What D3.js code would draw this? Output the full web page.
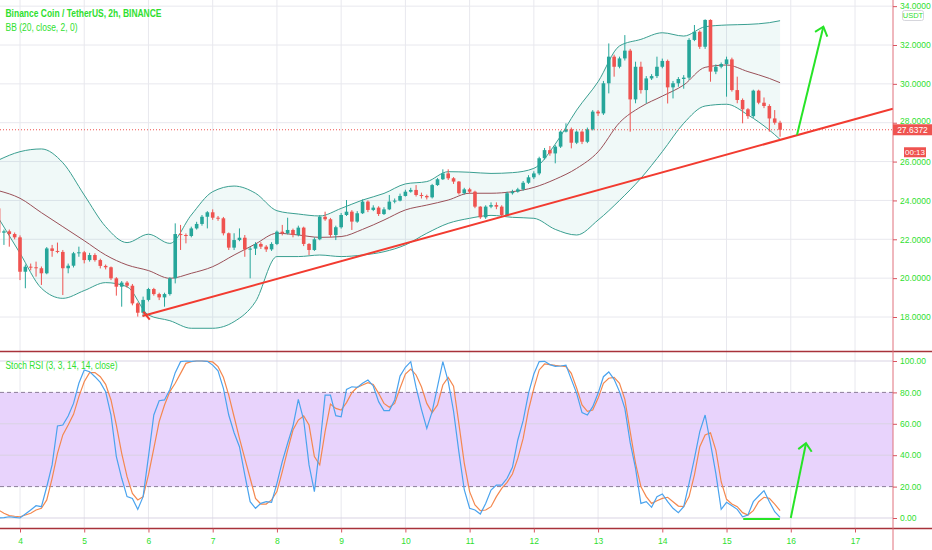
<!DOCTYPE html>
<html>
<head>
<meta charset="utf-8">
<script src="https://cdn.jsdelivr.net/npm/d3@7"></script>
<style>
  body { margin: 0; background: #fff; }
  svg { display: block; font-family: "Liberation Sans", Arial, sans-serif; }
</style>
</head>
<body>
<svg id="chart" width="932" height="550"></svg>
<script>
// ---- candles : BNB/USDT 2h, first candle is day 3 at 16:00 ----
const firstCandleDay = 3 + 16 / 24;
const candleStep = 2 / 24;
const firstOpen = 23.59;
// open of each candle = close of the previous one
const closes = [
  22.34, 22.41, 22.27, 22.10, 20.33, 20.59, 20.56, 20.51, 20.25, 21.53,
  21.40, 21.35, 20.51, 20.64, 21.28, 21.33, 20.93, 21.19, 20.93, 20.63,
  20.56, 19.99, 19.56, 19.77, 19.61, 18.70, 18.22, 18.88, 19.44, 19.18,
  19.01, 19.18, 19.99, 22.27, 22.22, 22.17, 22.56, 22.79, 23.16, 23.39,
  23.11, 23.08, 22.31, 21.57, 21.96, 22.08, 21.48, 21.52, 21.76, 21.62,
  21.48, 21.76, 22.39, 22.31, 22.48, 22.22, 22.60, 21.76, 21.45, 22.00,
  23.16, 23.03, 22.22, 22.62, 23.25, 23.42, 22.91, 23.34, 23.94, 23.51,
  23.63, 23.30, 23.54, 23.94, 23.99, 24.23, 24.45, 24.54, 24.28, 24.23,
  24.16, 24.79, 25.09, 25.39, 25.14, 24.97, 24.37, 24.57, 24.45, 23.68,
  23.13, 23.68, 23.76, 23.68, 23.25, 24.37, 24.45, 24.57, 24.91, 25.19,
  25.39, 26.17, 26.59, 26.42, 26.77, 27.54, 27.66, 26.97, 27.54, 27.02,
  27.66, 28.57, 28.48, 30.03, 31.40, 30.88, 31.31, 31.71, 29.20, 30.88,
  29.68, 30.28, 30.40, 30.88, 31.18, 29.82, 30.03, 30.25, 30.32, 32.26,
  32.68, 31.91, 33.29, 30.63, 30.88, 31.02, 31.26, 29.68, 29.17, 28.69,
  28.34, 29.65, 29.03, 28.86, 28.22, 28.00, 27.6372
];
const highs = [
  23.70, 22.50, 22.50, 22.35, 22.20, 20.70, 20.75, 20.85, 20.60, 21.60,
  21.71, 21.83, 21.45, 20.75, 21.35, 21.62, 21.40, 21.30, 21.28, 21.00,
  20.70, 20.60, 20.05, 19.85, 19.85, 19.70, 18.75, 19.05, 19.50, 19.50,
  19.25, 19.25, 20.05, 22.82, 22.74, 22.30, 22.65, 22.90, 23.25, 23.45,
  23.54, 23.20, 23.15, 22.35, 22.31, 22.56, 22.22, 21.60, 21.85, 21.85,
  21.70, 21.85, 22.45, 22.74, 23.11, 22.55, 22.70, 22.65, 21.80, 22.10,
  23.25, 23.42, 23.10, 22.70, 23.35, 24.02, 23.50, 23.45, 24.05, 24.00,
  23.75, 23.70, 23.65, 24.28, 24.10, 24.35, 24.55, 24.65, 24.79, 24.40,
  24.30, 24.85, 25.15, 25.60, 25.60, 25.20, 25.00, 24.65, 24.65, 24.50,
  23.70, 23.75, 23.90, 23.90, 23.75, 24.45, 24.55, 24.65, 25.00, 25.30,
  25.50, 26.25, 26.70, 26.80, 26.85, 27.60, 27.97, 27.75, 27.60, 27.60,
  27.75, 28.65, 28.65, 30.15, 32.08, 31.50, 31.40, 32.51, 31.80, 31.14,
  31.14, 30.40, 30.50, 31.40, 31.30, 31.25, 30.15, 30.35, 30.45, 32.35,
  33.03, 32.75, 33.32, 33.32, 31.00, 31.10, 31.40, 31.35, 30.37, 29.25,
  28.75, 29.70, 29.70, 29.30, 28.95, 28.65, 28.10
];
const lows = [
  22.20, 21.71, 21.62, 22.00, 19.90, 19.48, 20.40, 20.08, 19.65, 20.20,
  21.10, 21.28, 19.13, 20.25, 20.55, 21.10, 20.76, 20.85, 20.85, 20.50,
  20.45, 19.90, 19.10, 18.53, 19.50, 18.60, 18.02, 18.02, 18.80, 19.10,
  18.87, 18.53, 19.10, 19.73, 21.45, 21.79, 22.10, 22.50, 22.70, 22.56,
  23.00, 22.95, 22.20, 21.45, 21.45, 21.90, 21.10, 19.99, 21.19, 21.50,
  21.35, 21.40, 21.70, 22.20, 22.25, 22.10, 22.15, 21.65, 21.19, 21.40,
  21.95, 22.95, 22.10, 21.96, 22.55, 23.20, 22.48, 22.85, 23.30, 23.40,
  23.45, 23.20, 23.25, 23.50, 23.85, 23.95, 24.20, 24.40, 24.20, 24.10,
  24.05, 24.10, 24.75, 25.05, 25.05, 24.85, 24.30, 24.30, 24.35, 23.60,
  23.05, 23.05, 23.60, 23.55, 23.15, 23.20, 24.30, 24.40, 24.50, 24.85,
  25.10, 25.30, 26.10, 26.30, 25.91, 26.70, 27.50, 26.68, 26.90, 26.90,
  26.95, 27.60, 28.35, 28.40, 29.51, 30.37, 30.80, 31.20, 27.54, 29.00,
  29.50, 28.99, 30.20, 30.30, 30.80, 28.99, 29.25, 29.85, 29.75, 30.20,
  32.20, 31.80, 31.80, 30.11, 30.50, 30.80, 29.34, 29.60, 29.00, 27.97,
  28.20, 28.25, 28.95, 28.75, 27.54, 27.90, 27.28
];

const bbIndex = [0, 4, 8, 12, 16, 20, 24, 28, 32, 36, 40, 44, 48, 52, 56, 60, 64, 68, 72,
  76, 80, 84, 88, 92, 96, 100, 104, 108, 112, 116, 120, 124, 128, 132, 136, 140, 144, 146];
const bbUpper = [26.08, 26.51, 26.65, 25.94, 24.28, 22.65, 21.83, 22.26, 21.79, 23.25, 24.45, 24.74,
  24.37, 23.47, 23.30, 23.20, 23.59, 24.02, 24.36, 24.85, 24.97, 25.48, 25.45, 25.39, 25.43, 25.65,
  26.90, 28.65, 30.11, 31.95, 32.29, 32.63, 32.46, 32.94, 33.03, 33.06, 33.15, 33.25];
const bbBasis = [24.50, 24.11, 23.37, 22.65, 21.93, 21.19, 20.68, 20.39, 19.99, 20.25, 20.59, 21.19,
  21.76, 22.31, 22.22, 22.10, 22.14, 22.51, 22.99, 23.51, 23.76, 24.02, 24.37, 24.37, 24.45, 24.67,
  25.09, 25.65, 26.50, 28.00, 28.82, 29.37, 29.94, 30.85, 30.97, 30.63, 30.28, 30.06];
const bbLower = [23.08, 21.28, 19.48, 18.96, 19.36, 19.77, 19.56, 18.10, 17.81, 17.42, 17.42, 17.76,
  18.79, 21.11, 21.11, 21.19, 21.11, 21.19, 21.36, 21.71, 22.31, 22.82, 23.08, 23.23, 23.13, 23.08,
  22.51, 22.22, 22.99, 24.00, 25.14, 26.51, 27.97, 28.86, 28.95, 28.40, 27.62, 27.14];

// ---- Stoch RSI (3, 3, 14, 14, close), one value per candle ----
const stochK = [
  0, 0.2, 0.8, 0.4, 0, 2.5, 5.1, 7.8, 7.2, 19.9,
  33.8, 58.6, 59.2, 65.0, 73.0, 85.8, 94.3, 93.2, 90.0, 86.4,
  80.5, 65.6, 39.1, 25.3, 13.6, 12.5, 5.5, 13.6, 39.1, 65.6,
  74.7, 75.2, 81.9, 92.6, 99.6, 100, 99.8, 100, 100, 99.8,
  97.4, 93.8, 82.6, 65.6, 54.3, 45.4, 27.4, 10.4, 6.2, 9.3,
  10.4, 10.0, 22.1, 35.9, 47.6, 58.6, 75.6, 62.4, 33.8, 16.8,
  45.4, 78.3, 78.3, 65.2, 64.5, 81.9, 83.6, 83.2, 85.8, 87.9,
  84.1, 74.1, 68.4, 68.4, 75.2, 90.4, 96.0, 99.6, 83.2, 69.2,
  57.1, 67.7, 83.6, 99.6, 87.0, 68.0, 42.0, 18.0, 6.2, 5.1,
  2.5, 9.3, 17.8, 21.0, 21.0, 25.3, 32.3, 49.7, 62.0, 79.4,
  91.7, 99.6, 99.8, 97.7, 96.6, 96.8, 97.4, 88.3, 79.4, 67.1,
  65.6, 70.9, 79.4, 90.0, 93.0, 88.3, 80.5, 69.8, 48.0, 31.6,
  9.3, 10.4, 6.8, 13.6, 15.3, 10.4, 6.2, 3.4, 7.2, 22.1,
  38.0, 55.0, 65.6, 47.6, 28.4, 5.5, 10.0, 7.8, 5.5, 0.8,
  1.9, 10.4, 14.0, 17.4, 10.4, 4.0, 0.4
];
const stochD = [
  5.1, 3.0, 1.5, 1.1, 0.8, 1.9, 3.0, 5.1, 6.2, 11.5,
  25.3, 41.2, 52.9, 59.2, 66.0, 77.3, 86.8, 92.6, 92.6, 90.0,
  85.1, 75.2, 59.2, 41.2, 26.3, 15.7, 11.5, 13.6, 27.4, 44.4,
  61.4, 72.0, 80.5, 85.8, 92.1, 98.5, 99.6, 100, 100, 99.8,
  99.4, 96.4, 89.6, 78.3, 64.5, 50.7, 38.0, 25.3, 12.5, 8.9,
  8.9, 11.5, 16.8, 29.5, 43.3, 56.0, 62.4, 65.0, 59.2, 39.1,
  33.8, 55.0, 72.6, 69.8, 68.8, 73.5, 79.8, 83.2, 84.7, 86.2,
  85.1, 79.4, 73.0, 70.5, 73.0, 82.6, 91.7, 94.9, 91.1, 83.6,
  73.0, 67.1, 72.0, 84.7, 89.6, 84.0, 60.0, 35.0, 16.8, 8.3,
  4.7, 5.1, 7.2, 13.6, 18.9, 22.7, 28.0, 38.0, 50.7, 68.8,
  82.6, 94.3, 98.1, 97.7, 97.2, 96.8, 96.4, 92.1, 82.6, 72.0,
  67.9, 68.8, 76.2, 85.8, 89.0, 89.6, 85.8, 75.6, 55.0, 34.8,
  20.0, 13.6, 9.3, 11.0, 12.5, 13.2, 10.4, 7.6, 7.2, 13.6,
  27.4, 45.4, 52.9, 54.3, 43.3, 23.1, 11.9, 8.9, 7.2, 3.4,
  1.9, 4.7, 10.4, 13.2, 12.5, 8.9, 4.7
];

// ---- axes ----
const dayTicks = [4, 5, 6, 7, 8, 9, 10, 11, 12, 13, 14, 15, 16, 17];
const priceTicks = [18, 20, 22, 24, 26, 28, 30, 32, 34];
const rsiTicks = [0, 20, 40, 60, 80, 100];
const rsiBand = [20, 80];
const countdown = "00:13";

// ---- hand drawn annotations, [day, price] or [day, stoch value] ----
const trendLine = [[5.908, 18.05], [17.59, 28.72]];
const trendTail = [[5.92, 18.27], [6.02, 17.87]];
const arrowMain = [[16.097, 27.37], [16.507, 32.94]];
const arrowMainHead = [[16.378, 32.68], [16.507, 32.94], [16.569, 32.43]];
const arrowRsi = [[16.0, 0], [16.237, 47.6]];
const arrowRsiHead = [[16.117, 43.9], [16.237, 47.6], [16.326, 42.2]];
const rsiFloor = [[15.26, -0.6], [15.83, -0.6]];

// colours
const UP = "#26a69a", DOWN = "#ef5350", LABEL = "#2fe02f";

const svg = d3.select("#chart");
const axisX = 893;
const mainBottom = 351.5, rsiBottom = 528.5;

const x = d3.scaleLinear().domain([4, 17]).range([20, 855]);
const yPrice = d3.scaleLinear().domain([18, 32]).range([317, 45]);
const yRsi = d3.scaleLinear().domain([0, 100]).range([518, 361]);

const candleDay = i => firstCandleDay + i * candleStep;

// build candle rows
const candles = closes.map((c, i) => ({
  t: candleDay(i),
  o: i === 0 ? firstOpen : closes[i - 1],
  c: c, h: highs[i], l: lows[i]
}));
const bands = bbIndex.map((idx, k) => ({ t: candleDay(idx), up: bbUpper[k], mid: bbBasis[k], lo: bbLower[k] }));

// clip areas for the two panes
const defs = svg.append("defs");
defs.append("clipPath").attr("id", "clipMain")
  .append("rect").attr("x", 0).attr("y", 0).attr("width", axisX).attr("height", mainBottom);
defs.append("clipPath").attr("id", "clipRsi")
  .append("rect").attr("x", 0).attr("y", mainBottom).attr("width", axisX).attr("height", rsiBottom - mainBottom);

// grid
const grid = svg.append("g");
grid.selectAll(".vgrid").data(dayTicks).join("line")
  .attr("x1", d => x(d)).attr("x2", d => x(d))
  .attr("y1", 0).attr("y2", rsiBottom)
  .attr("stroke", "#e8e8ee").attr("stroke-width", 1);
grid.selectAll(".pgrid").data(priceTicks).join("line")
  .attr("x1", 0).attr("x2", axisX)
  .attr("y1", d => yPrice(d)).attr("y2", d => yPrice(d))
  .attr("stroke", "#e8e8ee").attr("stroke-width", 1);

// ---------- main pane ----------
const main = svg.append("g").attr("clip-path", "url(#clipMain)");

// bollinger fill + lines
main.append("path")
  .datum(bands)
  .attr("d", d3.area().curve(d3.curveMonotoneX)
    .x(d => x(d.t)).y0(d => yPrice(d.lo)).y1(d => yPrice(d.up)))
  .attr("fill", UP).attr("fill-opacity", 0.07);

function bandLine(key, color) {
  main.append("path")
    .datum(bands)
    .attr("d", d3.line().curve(d3.curveMonotoneX).x(d => x(d.t)).y(d => yPrice(d[key])))
    .attr("fill", "none").attr("stroke", color).attr("stroke-width", 1);
}
bandLine("up", "#3a9f91");
bandLine("lo", "#3a9f91");
bandLine("mid", "#9a5058");

// candles
const cg = main.append("g");
cg.selectAll(".wick").data(candles).join("line")
  .attr("x1", d => x(d.t)).attr("x2", d => x(d.t))
  .attr("y1", d => yPrice(d.h)).attr("y2", d => yPrice(d.l))
  .attr("stroke", d => d.c >= d.o ? UP : DOWN).attr("stroke-width", 1);
cg.selectAll(".body").data(candles).join("rect")
  .attr("x", d => x(d.t) - 1.8).attr("width", 3.6)
  .attr("y", d => yPrice(Math.max(d.o, d.c)))
  .attr("height", d => Math.max(1, Math.abs(yPrice(d.o) - yPrice(d.c))))
  .attr("fill", d => d.c >= d.o ? UP : DOWN);

// last price dotted line
const last = closes[closes.length - 1];
main.append("line")
  .attr("x1", 0).attr("x2", axisX)
  .attr("y1", yPrice(last)).attr("y2", yPrice(last))
  .attr("stroke", DOWN).attr("stroke-width", 1).attr("stroke-dasharray", "1,2");

// drawings
const priceLine = d3.line().x(d => x(d[0])).y(d => yPrice(d[1]));
main.append("path").attr("d", priceLine(trendLine))
  .attr("stroke", "#f23b30").attr("stroke-width", 2).attr("fill", "none");
main.append("path").attr("d", priceLine(trendTail))
  .attr("stroke", "#f23b30").attr("stroke-width", 2).attr("fill", "none");
main.append("path").attr("d", priceLine(arrowMain))
  .attr("stroke", "#27e427").attr("stroke-width", 2).attr("fill", "none");
main.append("path").attr("d", priceLine(arrowMainHead))
  .attr("stroke", "#27e427").attr("stroke-width", 2).attr("fill", "none");

// ---------- stoch rsi pane ----------
const rsi = svg.append("g").attr("clip-path", "url(#clipRsi)");
rsi.append("rect")
  .attr("x", 0).attr("width", axisX)
  .attr("y", yRsi(rsiBand[1])).attr("height", yRsi(rsiBand[0]) - yRsi(rsiBand[1]))
  .attr("fill", "#e8d3fc");
rsi.selectAll(".rgrid").data(rsiTicks.filter(v => !rsiBand.includes(v))).join("line")
  .attr("x1", 0).attr("x2", axisX)
  .attr("y1", d => yRsi(d)).attr("y2", d => yRsi(d))
  .attr("stroke", "#d9d3e3").attr("stroke-width", 1);
rsi.selectAll(".rband").data(rsiBand).join("line")
  .attr("x1", 0).attr("x2", axisX)
  .attr("y1", d => yRsi(d)).attr("y2", d => yRsi(d))
  .attr("stroke", "#8c7e9a").attr("stroke-width", 1).attr("stroke-dasharray", "4,3");

const rsiLine = d3.line().x((d, i) => x(candleDay(i))).y(d => yRsi(d));
rsi.append("path").attr("d", rsiLine(stochD))
  .attr("fill", "none").attr("stroke", "#f4884f").attr("stroke-width", 1.2);
rsi.append("path").attr("d", rsiLine(stochK))
  .attr("fill", "none").attr("stroke", "#4aa3ee").attr("stroke-width", 1.2);

const rsiDraw = d3.line().x(d => x(d[0])).y(d => yRsi(d[1]));
[arrowRsi, arrowRsiHead, rsiFloor].forEach(p => {
  rsi.append("path").attr("d", rsiDraw(p))
    .attr("stroke", "#27e427").attr("stroke-width", 2).attr("fill", "none");
});

// ---------- frames ----------
svg.append("line").attr("x1", 0).attr("x2", 932).attr("y1", mainBottom).attr("y2", mainBottom)
  .attr("stroke", "#a8323a").attr("stroke-width", 1.5);
svg.append("line").attr("x1", 0).attr("x2", 932).attr("y1", rsiBottom).attr("y2", rsiBottom)
  .attr("stroke", "#a8323a").attr("stroke-width", 1.5);
svg.append("line").attr("x1", axisX).attr("x2", axisX).attr("y1", 0).attr("y2", 550)
  .attr("stroke", "#e0707c").attr("stroke-width", 1);

// axes
function styleAxis(g) {
  g.select(".domain").remove();
  g.selectAll(".tick line").attr("stroke", "#d9535f");
  g.selectAll(".tick text").attr("fill", LABEL).attr("font-size", 8.5)
    .attr("font-family", "Liberation Sans, Arial, sans-serif");
}
const priceAxis = svg.append("g").attr("transform", `translate(${axisX},0)`)
  .call(d3.axisRight(yPrice).tickValues(priceTicks).tickFormat(d => d.toFixed(4)).tickSize(4).tickPadding(3))
  .call(styleAxis);
// the 28 label sits just above the last price tag
priceAxis.selectAll(".tick text").filter(d => d === 28).attr("dy", "0.1em");
svg.append("g").attr("transform", `translate(${axisX},0)`)
  .call(d3.axisRight(yRsi).tickValues(rsiTicks).tickFormat(d => d.toFixed(2)).tickSize(4).tickPadding(3))
  .call(styleAxis);
svg.append("g").attr("transform", `translate(0,${rsiBottom})`)
  .call(d3.axisBottom(x).tickValues(dayTicks).tickFormat(d3.format("d")).tickSize(4).tickPadding(5))
  .call(styleAxis);

// currency badge, just under the top label
svg.append("rect").attr("x", 902.5).attr("y", 10.5).attr("width", 21).attr("height", 10).attr("rx", 2)
  .attr("fill", "#fff").attr("stroke", "#d6d6dc");
svg.append("text").attr("x", 913).attr("y", 18.3).attr("text-anchor", "middle")
  .attr("font-size", 7.5).attr("fill", LABEL).text("USDT");

// last price + countdown labels
const lp = yPrice(last);
svg.append("rect").attr("x", axisX).attr("y", lp - 5.5).attr("width", 932 - axisX).attr("height", 11)
  .attr("fill", DOWN);
svg.append("text").attr("x", 912.5).attr("y", lp + 3.2).attr("text-anchor", "middle")
  .attr("font-size", 8.5).attr("fill", "#fff").text(last.toFixed(4));
svg.append("rect").attr("x", 904).attr("y", lp + 17.5).attr("width", 22).attr("height", 10)
  .attr("fill", DOWN);
svg.append("text").attr("x", 915).attr("y", lp + 25.5).attr("text-anchor", "middle")
  .attr("font-size", 8).attr("fill", "#fff").text(countdown);

// legends
svg.append("text").attr("x", 5.5).attr("y", 17).attr("font-size", 10).attr("font-weight", "bold")
  .attr("fill", LABEL).attr("textLength", 156).attr("lengthAdjust", "spacingAndGlyphs")
  .text("Binance Coin / TetherUS, 2h, BINANCE");
svg.append("text").attr("x", 5.5).attr("y", 31).attr("font-size", 10)
  .attr("fill", LABEL).attr("textLength", 72).attr("lengthAdjust", "spacingAndGlyphs")
  .text("BB (20, close, 2, 0)");
svg.append("text").attr("x", 5.5).attr("y", 369).attr("font-size", 10)
  .attr("fill", LABEL).attr("textLength", 112).attr("lengthAdjust", "spacingAndGlyphs")
  .text("Stoch RSI (3, 3, 14, 14, close)");
</script>
</body>
</html>
